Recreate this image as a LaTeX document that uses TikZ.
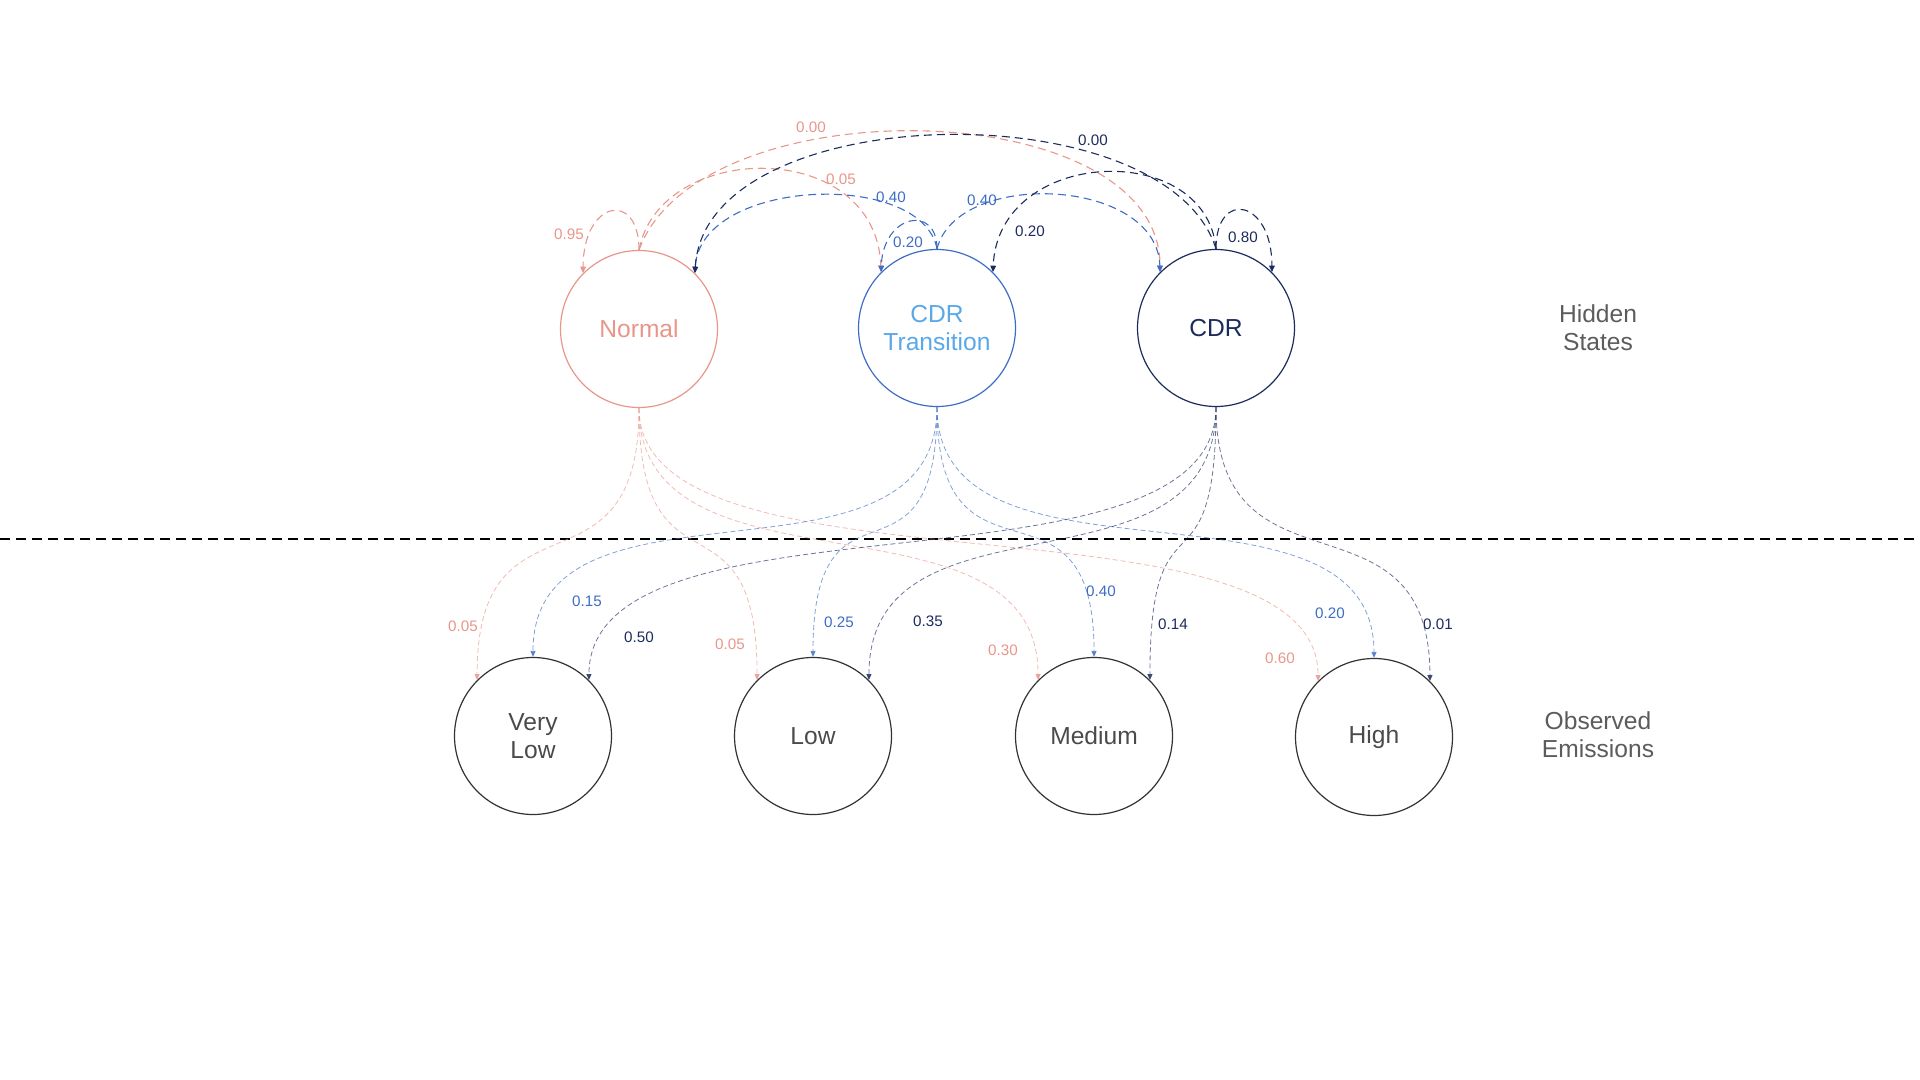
\documentclass[tikz,border=0pt]{standalone}
\usepackage{fontspec}
\setmainfont{Liberation Sans}
\usetikzlibrary{arrows.meta}
\definecolor{salmon}{HTML}{E8968A}
\definecolor{tblue}{HTML}{3D6DC4}
\definecolor{tlight}{HTML}{5AA8E8}
\definecolor{navy}{HTML}{1C2B5E}
\definecolor{egray}{HTML}{333333}
\definecolor{etext}{HTML}{4A4A4A}
\definecolor{tgray}{HTML}{5C5C5C}
\begin{document}
\begin{tikzpicture}[x=0.5pt,y=-0.5pt,
  state/.style={circle, draw, minimum size=78.5pt, inner sep=0pt, line width=0.6pt, align=center, font=\fontsize{12.3}{14.2}\selectfont},
  trans/.style={line width=0.55pt, dash pattern=on 4pt off 2.5pt, -{Triangle[length=3.2pt,width=2.8pt]}},
  emis/.style={line width=0.4pt, dash pattern=on 2.5pt off 1.5pt, -{Triangle[length=3pt,width=2.6pt]}, draw opacity=0.65, fill opacity=0.85},
  prob/.style={font=\fontsize{7.6}{9}\selectfont, inner sep=1pt},
  side/.style={align=center, text=tgray, font=\fontsize{12.3}{14.2}\selectfont}]
\useasboundingbox (0,0) rectangle (1920,1080);

% hidden states
\node[state, draw=salmon, text=salmon] (N) at (639,329) {Normal};
\node[state, draw=tblue, text=tlight] (T) at (937,328) {CDR\\Transition};
\node[state, draw=navy, text=navy] (C) at (1216,328) {CDR};

% emissions
\node[state, draw=egray, text=etext] (VL) at (533,736) {Very\\Low};
\node[state, draw=egray, text=etext] (L) at (813,736) {Low};
\node[state, draw=egray, text=etext] (M) at (1094,736) {Medium};
\node[state, draw=egray, text=etext] (H) at (1374,737) {High};

\node[side] (hs) at (1598,328) {Hidden\\States};
\node[side] (oe) at (1598,735) {Observed\\Emissions};

% separator
\coordinate (sepL) at (0,539);
\coordinate (sepR) at (1920,539);
\draw[line width=1.2pt, dash pattern=on 5pt off 3pt] (sepL) -- (sepR);

% transitions from Normal
\draw[trans, salmon] (N.north) .. controls +(0,-60) and +(0,-73) .. (N.north west);
\draw[trans, salmon] (N.north) .. controls +(21,-110) and +(-5,-135) .. (T.north west);
\draw[trans, salmon] (N.north) .. controls +(60,-165) and +(0,-180) .. (C.north west);
% transitions from CDR Transition
\draw[trans, tblue] (T.north) .. controls +(-15,-80) and +(5,-95) .. (N.north east);
\draw[trans, tblue] (T.north) .. controls +(0,-45) and +(2,-58) .. (T.north west);
\draw[trans, tblue] (T.north) .. controls +(20,-80) and +(-3,-95) .. (C.north west);
% transitions from CDR
\draw[trans, navy] (C.north) .. controls +(-50,-160) and +(10,-175) .. (N.north east);
\draw[trans, navy] (C.north) .. controls +(-10,-110) and +(5,-125) .. (T.north east);
\draw[trans, navy] (C.north) .. controls +(0,-60) and +(0,-73) .. (C.north east);

% transition labels
\node[prob, text=salmon] (p1) at (569,234) {0.95};
\node[prob, text=salmon] (p2) at (841,179) {0.05};
\node[prob, text=salmon] (p3) at (811,127) {0.00};
\node[prob, text=tblue] (p4) at (891,197) {0.40};
\node[prob, text=tblue] (p5) at (908,242) {0.20};
\node[prob, text=tblue] (p6) at (982,200) {0.40};
\node[prob, text=navy] (p7) at (1093,140) {0.00};
\node[prob, text=navy] (p8) at (1030,231) {0.20};
\node[prob, text=navy] (p9) at (1243,237) {0.80};

% emissions from Normal
\draw[emis, salmon] (N.south) .. controls +(0,200) and +(0,-200) .. (VL.north west);
\draw[emis, salmon] (N.south) .. controls +(0,200) and +(0,-200) .. (L.north west);
\draw[emis, salmon] (N.south) .. controls +(0,200) and +(0,-200) .. (M.north west);
\draw[emis, salmon] (N.south) .. controls +(0,200) and +(0,-200) .. (H.north west);
% emissions from CDR Transition
\draw[emis, tblue] (T.south) .. controls +(0,200) and +(0,-200) .. (VL.north);
\draw[emis, tblue] (T.south) .. controls +(0,200) and +(0,-200) .. (L.north);
\draw[emis, tblue] (T.south) .. controls +(0,200) and +(0,-200) .. (M.north);
\draw[emis, tblue] (T.south) .. controls +(0,200) and +(0,-200) .. (H.north);
% emissions from CDR
\draw[emis, navy] (C.south) .. controls +(0,200) and +(0,-200) .. (VL.north east);
\draw[emis, navy] (C.south) .. controls +(0,200) and +(0,-200) .. (L.north east);
\draw[emis, navy] (C.south) .. controls +(0,200) and +(0,-200) .. (M.north east);
\draw[emis, navy] (C.south) .. controls +(0,200) and +(0,-200) .. (H.north east);

% emission labels
\node[prob, text=salmon] (e1) at (463,626) {0.05};
\node[prob, text=salmon] (e2) at (730,644) {0.05};
\node[prob, text=salmon] (e3) at (1003,650) {0.30};
\node[prob, text=salmon] (e4) at (1280,658) {0.60};
\node[prob, text=tblue] (e5) at (587,601) {0.15};
\node[prob, text=tblue] (e6) at (839,622) {0.25};
\node[prob, text=tblue] (e7) at (1101,591) {0.40};
\node[prob, text=tblue] (e8) at (1330,613) {0.20};
\node[prob, text=navy] (e9) at (639,637) {0.50};
\node[prob, text=navy] (e10) at (928,621) {0.35};
\node[prob, text=navy] (e11) at (1173,624) {0.14};
\node[prob, text=navy] (e12) at (1438,624) {0.01};
\end{tikzpicture}
\end{document}
